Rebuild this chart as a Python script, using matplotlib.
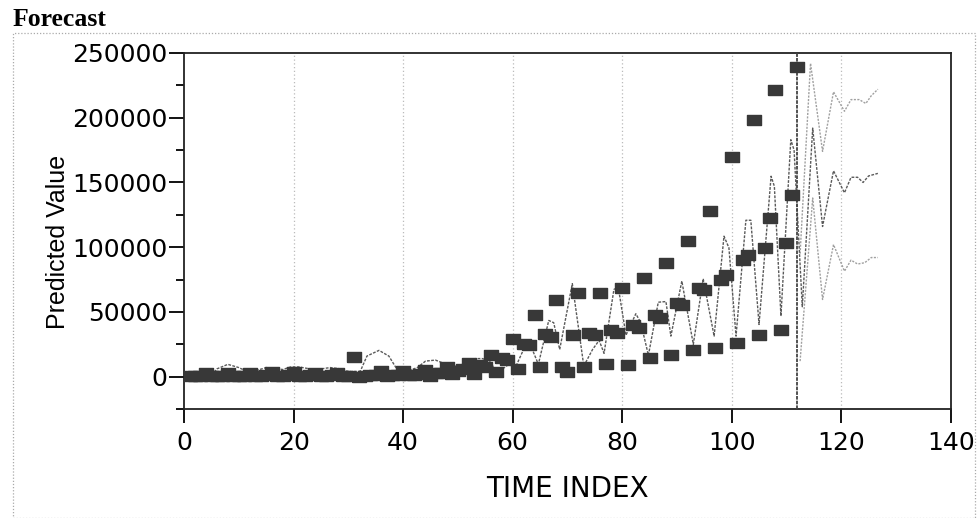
import numpy as np
import matplotlib
matplotlib.use("Agg")
import matplotlib.pyplot as plt
from matplotlib.patches import Rectangle
from matplotlib.ticker import MultipleLocator

plt.rcParams['font.family'] = ['DejaVu Sans']

# observed series (squares), time index 1..112
obs_t = np.arange(1, 113)
obs_v = [300, 500, 600, 3000, 400, 700, 800, 3200, 500, 700,
         800, 2800, 500, 600, 900, 3500, 600, 800, 1000, 3500,
         500, 700, 1000, 2500, 500, 800, 1000, 3000, 700, 800,
         15000, 0, 500, 1000, 1500, 4000, 800, 1200, 1500, 4500,
         1000, 1500, 2000, 5000, 500, 2500, 3000, 7500, 1800, 4500,
         5600, 10800, 1800, 9000, 7700, 17000, 3500, 14700, 12600, 28800,
         5600, 24900, 24400, 48000, 7400, 32600, 30600, 59100, 7400, 3800,
         32000, 64800, 7400, 34000, 32000, 64800, 9500, 35700, 34000, 68700,
         9000, 39800, 37800, 76400, 14700, 47500, 45500, 87700, 16400, 57000,
         55000, 105000, 20500, 68700, 66700, 128300, 22400, 74400, 78200, 170000,
         26200, 90000, 93600, 198000, 32000, 99500, 122700, 221700, 36000, 103400,
         140000, 239000]

# fitted / forecast line (vertices)
fc_t = [5, 6, 8, 10, 11.5, 13, 15, 16.5, 18, 19.5, 21, 23, 25, 26.7, 28.6,
        30, 31.5, 32.2, 33.4, 35.6, 37.4, 38.9, 40.5, 42.6, 44.1, 45.9, 47,
        48.5, 50.5, 52, 53.2, 54.4, 55.7, 57.2, 59.3, 60.5, 62, 63.6, 64.7,
        66.6, 67.5, 68.6, 70.9, 73, 74.6, 75.8, 76.7, 78.5, 79.3, 80.7, 82.5,
        83.4, 84.8, 86.6, 88, 88.9, 90.9, 93, 94.8, 96.8, 98.6, 99.5, 100.8,
        102.6, 103.5, 105, 107.2, 107.8, 109, 110.8, 111.4, 112.9, 114.8,
        116.6, 118.6, 120.6, 121.8, 123, 124, 125, 126.7]
fc_v = [1000, 6000, 9500, 7000, 4000, 4500, 7000, 6500, 5500, 7500, 7500,
        6000, 6000, 7000, 6000, 4000, 4000, 4300, 15900, 20300, 15900, 5600,
        4000, 7000, 12000, 12800, 11000, 7000, 9000, 12000, 13900, 14000,
        12500, 3000, 9500, 7000, 21000, 21000, 9500, 43400, 41700, 21000,
        71800, 8200, 21000, 28000, 18000, 67400, 69000, 32000, 48600, 41700,
        16500, 57500, 58000, 31300, 73800, 25000, 75600, 31300, 108500,
        99500, 31300, 120800, 120800, 40300, 154800, 147000, 46800, 183000,
        175000, 54000, 192000, 116000, 159000, 142000, 154000, 154000,
        150000, 155000, 157000]

# confidence bounds after the end of data
up_t = [112.5, 114.4, 116.6, 118.6, 120.6, 121.8, 123.3, 124.5, 125.5, 126.7]
up_v = [95000, 242000, 174000, 220000, 205000, 214000, 214000, 211000, 217000, 222000]
lo_t = [112.5, 114.8, 116.6, 118.6, 120.6, 121.8, 123, 124.3, 125.5, 126.7]
lo_v = [12000, 138000, 59600, 102000, 81500, 90000, 87000, 88000, 92000, 92000]

end_t = 112

fig = plt.figure(figsize=(9.8, 5.18), dpi=100)
ax = fig.add_axes([0.1878, 0.2104, 0.7823, 0.6873])

for g in range(20, 140, 20):
    ax.axvline(g, color='#bbbbbb', lw=0.9, ls=(0, (1, 2)), zorder=0)

ax.plot(up_t, up_v, color='#a0a0a0', lw=1.0, ls=(0, (1.5, 1)), zorder=2)
ax.plot(lo_t, lo_v, color='#a0a0a0', lw=1.0, ls=(0, (1.5, 1)), zorder=2)
ax.plot(fc_t, fc_v, color='#5a5a5a', lw=1.0, ls=(0, (2, 1)), zorder=3)
ax.axvline(end_t, color='#444444', lw=1.3, ls=(0, (2, 0.6)), zorder=3)

rect_marker = [(-1, -0.65), (1, -0.65), (1, 0.65), (-1, 0.65), (-1, -0.65)]
ax.plot(obs_t, obs_v, ls='none', marker=rect_marker, ms=10,
        color='#383838', mec='#383838', zorder=4)

ax.set_xlim(0, 140)
ax.set_ylim(-25000, 250000)
ax.xaxis.set_major_locator(MultipleLocator(20))
ax.yaxis.set_major_locator(MultipleLocator(50000))
ax.yaxis.set_minor_locator(MultipleLocator(25000))
ax.tick_params(axis='y', which='major', direction='out', length=11, width=1.3,
               labelsize=18, pad=1)
ax.tick_params(axis='y', which='minor', direction='out', length=6, width=1.3)
ax.tick_params(axis='x', which='major', direction='out', length=10, width=1.3,
               labelsize=18, pad=6)
for s in ax.spines.values():
    s.set_linewidth(1.3)
    s.set_color('#222222')

ax.set_ylabel('Predicted Value', fontsize=18, family='Liberation Sans')
ax.set_xlabel('TIME INDEX', fontsize=20)
ax.yaxis.set_label_coords(-0.149, 0.47)
ax.xaxis.set_label_coords(0.5, -0.185)

fig.text(13 / 980, 1 - 26 / 518, 'Forecast', family='Liberation Serif',
         fontweight='bold', fontsize=18.5, va='baseline', ha='left')
fig.patches.append(Rectangle((13 / 980, 0), 962 / 980, 1 - 33 / 518,
                             transform=fig.transFigure, fill=False,
                             ec='#aaaaaa', lw=0.9, ls=(0, (1, 1.5))))

fig.savefig('out.png', dpi=100)
